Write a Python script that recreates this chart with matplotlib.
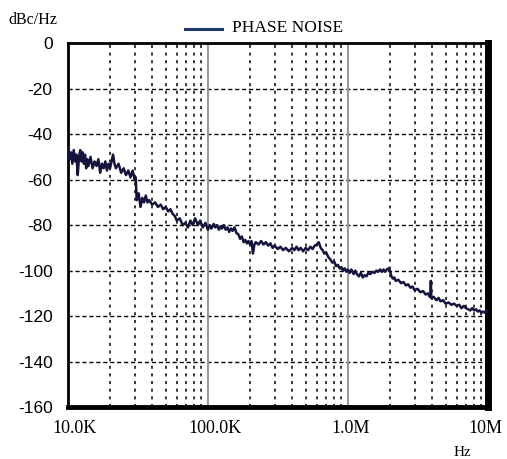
import matplotlib
matplotlib.use("Agg")
import matplotlib.pyplot as plt
from matplotlib.lines import Line2D
from matplotlib.transforms import ScaledTranslation

# ---- data ----
# offset frequency in kHz
freq_khz = [
    10.0, 10.25, 10.5, 10.75, 11.0, 11.25, 11.5, 11.75, 12.0, 12.25,
    12.5, 12.75, 13.0, 13.25, 13.5, 13.75, 14.0, 14.5, 15.0, 15.5,
    16.0, 16.5, 17.0, 17.5, 18.0, 18.5, 19.0, 19.5, 20.0, 21.0,
    21.5, 22.0, 23.0, 24.0, 25.0, 26.0, 27.0, 28.0, 29.0, 30.0,
    30.5, 31.0, 32.0, 33.0, 34.0, 35.0, 36.0, 37.0, 38.0, 40.0,
    42.0, 44.0, 46.0, 48.0, 50.0, 52.0, 54.0, 56.0, 58.0, 60.0,
    63.0, 66.0, 69.0, 72.0, 75.0, 78.0, 81.0, 85.0, 88.0, 92.0,
    96.0,
    100, 103, 106, 110, 113, 116, 120, 123, 126, 130,
    134, 138, 142, 146, 150, 155, 160, 165, 170, 175,
    180, 185, 190, 195, 200, 205, 210, 215, 220, 230,
    240, 250, 260, 270, 280, 290, 300, 315, 330, 345,
    360, 380, 400, 415, 430, 445, 460, 480, 500, 520,
    540, 560, 580, 600, 620, 640, 660, 680, 700, 725,
    750, 775, 800, 825, 850, 875, 900, 925, 950, 975,
    1000, 1030, 1060, 1100, 1130, 1160, 1200, 1240, 1280, 1320,
    1360, 1400, 1450, 1500, 1550, 1600, 1650, 1700, 1750, 1800,
    1850, 1900, 1950, 2000, 2050, 2100, 2150, 2200, 2300, 2400,
    2500, 2600, 2700, 2800, 2900, 3000, 3150, 3300, 3450, 3600,
    3750, 3850, 3900, 3920, 3950, 4100, 4300, 4450, 4600, 4800,
    5000, 5250, 5500, 5750, 6000, 6250, 6500, 6750, 7000, 7250,
    7500, 7750, 8000, 8250, 8500, 8750, 9000, 9250, 9500, 9750,
    10000,
]
phase_noise_dbc = [
    -46, -51, -48, -53, -47, -52, -49, -58, -50, -47,
    -52, -48, -53, -49, -55, -51, -54, -50, -55, -52,
    -54, -51, -57, -53, -55, -52, -56, -53, -55, -49,
    -53, -55, -53, -57, -55, -58, -56, -59, -56, -60,
    -59, -69, -66, -72, -68, -70, -67, -70, -69, -71,
    -70, -72, -71, -73, -72, -74, -73, -75, -76, -78,
    -77, -80, -79, -81, -78, -80, -77, -80, -78, -81,
    -79,
    -82, -80, -81.5, -79.5, -81, -80, -82, -80.5, -81.5, -80,
    -82, -81, -83, -81.5, -82.5, -81, -83.5, -84, -86, -85,
    -87.5, -86.5, -88, -87, -88.5, -87, -92.5, -88.5, -87.5, -88.5,
    -87, -88.5, -87.5, -89, -88, -90, -89, -90.5, -89.5, -91,
    -90, -91.5, -90, -91, -89.5, -91, -90, -91.5, -90, -91,
    -89.5, -90.5, -89, -88.5, -87.5, -90, -91, -92.5, -92, -94,
    -95, -96.5, -96, -98, -97.5, -99, -98.5, -100, -99, -100.5,
    -99.5, -101, -99.5, -101.5, -100, -101.5, -102.5, -101, -103, -102,
    -102.5, -101, -101.5, -100.5, -101, -100, -100.5, -99.5, -100.5, -99.5,
    -100.5, -99.5, -99, -100, -102.5, -103.5, -103, -104.5, -104, -105.5,
    -105, -106.5, -106, -107.5, -107, -108.5, -108, -109.5, -109, -110.5,
    -110, -111.5, -111, -104.5, -112, -111.5, -113, -112, -113.5, -113,
    -114.5, -114, -115, -114.5, -115.5, -115, -116.5, -115.5, -116.5, -117,
    -117.5, -116.5, -117.5, -117, -118, -117.5, -118.5, -118, -118.5, -117.5,
    -118,
]
y_ticks = [0, -20, -40, -60, -80, -100, -120, -140, -160]
x_ticks = [10, 100, 1000, 10000]
x_tick_labels = ["10.0K", "100.0K", "1.0M", "10M"]
legend_label = "PHASE NOISE"

fig = plt.figure(figsize=(5.07, 4.59), dpi=100)
ax = fig.add_axes([0.134, 0.113, 0.828, 0.793])

ax.set_xscale("log")
ax.set_xlim(10, 10000)
ax.set_ylim(-160, 0)

# grid: horizontal dashed
for yv in y_ticks:
    ax.axhline(yv, color="black", lw=1.0, ls=(0, (3, 2)), zorder=1)
# vertical minor dotted, decade lines solid grey
for dec in [10, 100, 1000]:
    for m in range(2, 10):
        ax.axvline(dec * m, color="black", lw=1.1, ls=(0, (2, 3)), zorder=1)
for dec in [100, 1000]:
    ax.axvline(dec, color="#9a9a9a", lw=1.5, zorder=1)

ax.plot(freq_khz, phase_noise_dbc, color="#14143c", lw=1.8, zorder=3)

ax.set_yticks(y_ticks)
ax.set_yticklabels([str(v) for v in y_ticks], family="Liberation Sans", fontsize=12.5)
ax.set_xticks(x_ticks)
ax.set_xticklabels(x_tick_labels, family="Liberation Serif", fontsize=13)
ax.minorticks_off()
ax.tick_params(axis="both", length=0)
ax.tick_params(axis="y", pad=11)
ax.tick_params(axis="x", pad=9)

# small horizontal nudges of the x tick labels, as in the reference
for lab, dx in zip(ax.get_xticklabels(), [7, 7, 3, -2]):
    lab.set_transform(lab.get_transform() + ScaledTranslation(dx / 100, 0, fig.dpi_scale_trans))

for side, w in [("left", 2.0), ("top", 2.0), ("right", 5.0), ("bottom", 3.5)]:
    ax.spines[side].set_linewidth(w)
    ax.spines[side].set_color("black")

fig.text(8 / 507, 1 - 20 / 459, "dBc/Hz", family="Liberation Serif", fontsize=11.5,
         ha="left", va="center")
fig.text(462 / 507, 1 - 452 / 459, "Hz", family="Liberation Serif", fontsize=11,
         ha="center", va="center")

# legend line + label
fig.add_artist(Line2D([185 / 507, 222 / 507], [1 - 29 / 459, 1 - 29 / 459],
                      color="#1f3a6e", lw=2.2))
fig.text(232 / 507, 1 - 28 / 459, legend_label, family="Liberation Serif", fontsize=12.5,
         ha="left", va="center")

fig.savefig("out.png", dpi=100)
